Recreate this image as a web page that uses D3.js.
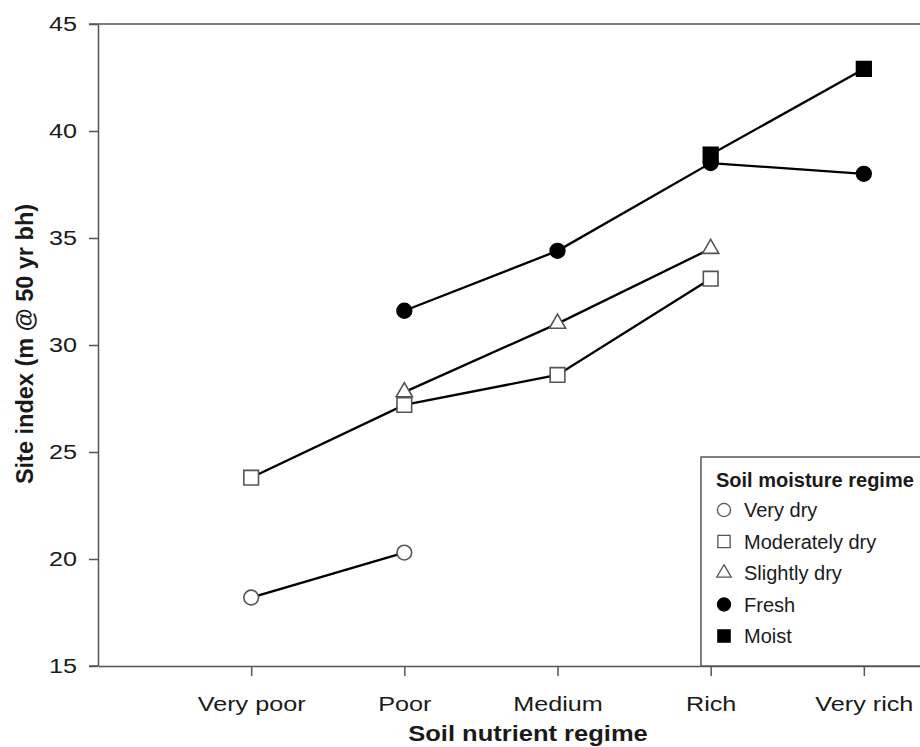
<!DOCTYPE html>
<html>
<head>
<meta charset="utf-8">
<script src="https://cdn.jsdelivr.net/npm/d3@7"></script>
<style>
  body { margin: 0; background: #fff; }
  svg { font-family: "Liberation Sans", Arial, sans-serif; }
</style>
</head>
<body>
<svg width="920" height="747"></svg>
<script>
var categories = ["Very poor", "Poor", "Medium", "Rich", "Very rich"];
var yTicks = [15, 20, 25, 30, 35, 40, 45];

// null = no value for that nutrient regime
var veryDry       = [18.2, 20.3, null, null, null];
var moderatelyDry = [23.8, 27.2, 28.6, 33.1, null];
var slightlyDry   = [null, 27.8, 31.0, 34.5, null];
var fresh         = [null, 31.6, 34.4, 38.5, 38.0];
var moist         = [null, null, null, 38.9, 42.9];

var series = [
    { name: "Very dry", values: veryDry, shape: "circle", fill: "#fff" },
    { name: "Moderately dry", values: moderatelyDry, shape: "square", fill: "#fff" },
    { name: "Slightly dry", values: slightlyDry, shape: "triangle", fill: "#fff" },
    { name: "Fresh", values: fresh, shape: "circle", fill: "#000" },
    { name: "Moist", values: moist, shape: "square", fill: "#000" }
];

var svg = d3.select('svg');
var plotLeft = 98, plotTop = 24, plotBottom = 666, plotRight = 1017;

var x = d3.scaleLinear().domain([0, 6]).range([plotLeft, plotRight]);
var y = d3.scaleLinear().domain([15, 45]).range([plotBottom, plotTop]);

var axisColor = '#555';
var textColor = '#1a1a1a';
var stretch = 1.2;   // the original tick labels are a bit wide

// top frame line, starting at the 45 tick
svg.append('line')
    .attr('x1', plotLeft - 9).attr('x2', plotRight).attr('y1', plotTop).attr('y2', plotTop)
    .attr('stroke', axisColor).attr('stroke-width', 1.5);

var yAxis = svg.append('g')
    .attr('transform', 'translate(' + plotLeft + ',0)')
    .call(d3.axisLeft(y).tickValues(yTicks).tickSize(9).tickSizeOuter(0).tickPadding(12));

var xAxis = svg.append('g')
    .attr('transform', 'translate(0,' + plotBottom + ')')
    .call(d3.axisBottom(x).tickValues([1, 2, 3, 4, 5]).tickSize(10).tickSizeOuter(0).tickPadding(20)
        .tickFormat(function(d) { return categories[d - 1]; }));

[xAxis, yAxis].forEach(function(g) {
    g.select('.domain').attr('stroke', axisColor).attr('stroke-width', 1.5);
    g.selectAll('.tick line').attr('stroke', axisColor).attr('stroke-width', 1.5);
    g.selectAll('.tick text').attr('fill', textColor).style('font-size', '21px')
        .style('font-family', '"Liberation Sans", Arial, sans-serif')
        .attr('transform', 'scale(' + stretch + ',1)');
});
yAxis.selectAll('.tick text').attr('x', -21 / stretch);

// bottom line reaches out to the left tick, like the original
svg.append('line')
    .attr('x1', plotLeft - 9).attr('x2', plotLeft).attr('y1', plotBottom).attr('y2', plotBottom)
    .attr('stroke', axisColor).attr('stroke-width', 1.5);

svg.append('text')
    .attr('transform', 'translate(528,741) scale(1.16,1)')
    .attr('text-anchor', 'middle')
    .style('font-size', '22px').style('font-weight', 'bold')
    .attr('fill', textColor)
    .text('Soil nutrient regime');

svg.append('text')
    .attr('transform', 'translate(33,344) rotate(-90)')
    .attr('text-anchor', 'middle')
    .style('font-size', '23.5px').style('font-weight', 'bold')
    .attr('fill', textColor)
    .text('Site index (m @ 50 yr bh)');

var symbols = {
    circle: d3.symbol().type(d3.symbolCircle).size(170),
    square: d3.symbol().type(d3.symbolSquare).size(215),
    triangle: d3.symbol().type(d3.symbolTriangle).size(115)
};

var line = d3.line()
    .defined(function(d) { return d.v != null; })
    .x(function(d) { return x(d.i + 1); })
    .y(function(d) { return y(d.v); });

series.forEach(function(s) {
    var pts = s.values.map(function(v, i) { return { i: i, v: v }; });
    svg.append('path')
        .datum(pts)
        .attr('d', line)
        .attr('fill', 'none')
        .attr('stroke', '#000')
        .attr('stroke-width', 2.3);
});

series.forEach(function(s) {
    var pts = s.values.map(function(v, i) { return { i: i, v: v }; })
        .filter(function(d) { return d.v != null; });
    svg.selectAll(null)
        .data(pts).enter()
        .append('path')
        .attr('d', symbols[s.shape])
        .attr('transform', function(d) { return 'translate(' + x(d.i + 1) + ',' + y(d.v) + ')'; })
        .attr('fill', s.fill)
        .attr('stroke', s.fill === '#000' ? '#000' : '#555')
        .attr('stroke-width', 1.6);
});

// legend
var legend = svg.append('g').attr('transform', 'translate(701,457)');
legend.append('rect')
    .attr('x', 0).attr('y', 0).attr('width', 300).attr('height', plotBottom - 457)
    .attr('fill', '#fff').attr('stroke', axisColor).attr('stroke-width', 1.5);
legend.append('text')
    .attr('x', 15).attr('y', 30)
    .style('font-size', '20px').style('font-weight', 'bold')
    .attr('fill', textColor)
    .text('Soil moisture regime');

var legendSymbols = {
    circle: d3.symbol().type(d3.symbolCircle).size(135),
    square: d3.symbol().type(d3.symbolSquare).size(150),
    triangle: d3.symbol().type(d3.symbolTriangle).size(90)
};

series.forEach(function(s, i) {
    var yy = 53 + i * 31.5;
    legend.append('path')
        .attr('d', legendSymbols[s.shape])
        .attr('transform', 'translate(23,' + yy + ')')
        .attr('fill', s.fill)
        .attr('stroke', s.fill === '#000' ? '#000' : '#555')
        .attr('stroke-width', 1.3);
    legend.append('text')
        .attr('x', 43).attr('y', yy + 7)
        .style('font-size', '20px')
        .attr('fill', textColor)
        .text(s.name);
});
</script>
</body>
</html>
